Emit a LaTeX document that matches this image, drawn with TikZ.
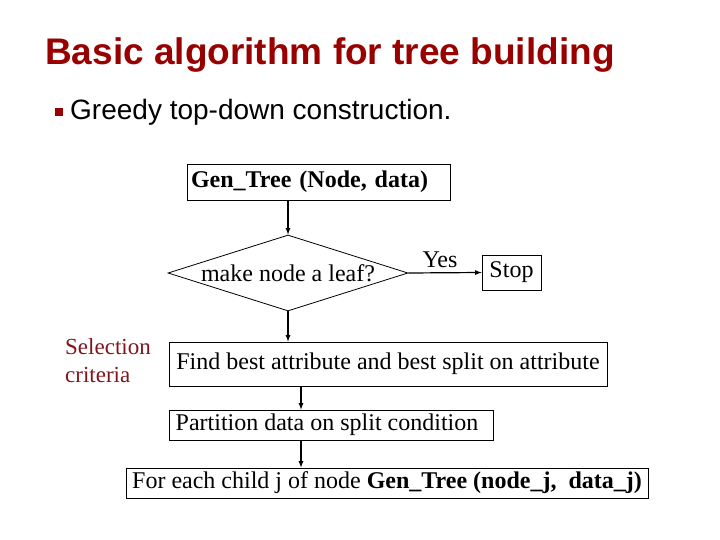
\documentclass[tikz,border=0pt]{standalone}
\usepackage{fontspec}
\setmainfont{Liberation Serif}
\newfontfamily\titlefont{Liberation Sans}
\usetikzlibrary{shapes.geometric}
\definecolor{titlered}{RGB}{153,0,0}
\definecolor{critred}{RGB}{130,20,30}
\tikzset{
  stepbox/.style={draw,line width=0.8pt,inner sep=0pt,font=\fontsize{24}{28}\selectfont},
  flow/.style={-latex,line width=1.2pt}
}
\begin{document}
\begin{tikzpicture}[x=1pt,y=-1pt]
\useasboundingbox (0,0) rectangle (720,540);
\node[anchor=west,inner sep=0pt,text=titlered,font=\titlefont\bfseries\fontsize{37}{42}\selectfont] (title) at (45,55) {Basic algorithm for tree building};
\fill[titlered] (55,108) rectangle (63,116);
\node[anchor=west,inner sep=0pt,font=\titlefont\fontsize{28}{32}\selectfont] (bullet) at (70,112) {Greedy top-down construction.};
\node[stepbox,minimum width=263,minimum height=36,text width=255,align=left] (gen) at (318.5,182) {\textbf{Gen\_Tree (Node, data)}};
\node[stepbox,diamond,aspect=3.16,minimum width=240,minimum height=76] (leaf) at (288,273) {\hspace*{0pt}make node a leaf?};
\node[stepbox,minimum width=59,minimum height=35] (stop) at (511.5,272.5) {Stop};
\node[font=\fontsize{24}{28}\selectfont] (yes) at (440,260) {Yes};
\node[stepbox,minimum width=438,minimum height=44] (find) at (388,364) {Find best attribute and best split on attribute};
\node[stepbox,minimum width=324,minimum height=30] (part) at (331,425) {\hspace*{-8pt}Partition data on split condition};
\node[stepbox,minimum width=522,minimum height=30] (each) at (387,483) {For each child j of node \textbf{Gen\_Tree (node\_j,~ data\_j)}};
\node[anchor=west,align=left,inner sep=0pt,text=critred,font=\fontsize{23}{28}\selectfont] (crit) at (65,361) {Selection\\criteria};
\coordinate (genout) at (288,200);
\coordinate (findout) at (301,386);
\coordinate (partout) at (301,440);
\draw[flow] (genout) -- (leaf.north);
\draw[flow] (leaf.east) -- (stop.west);
\draw[flow] (leaf.south) -- (leaf.south |- find.north);
\draw[flow] (findout) -- (findout |- part.north);
\draw[flow] (partout) -- (partout |- each.north);
\end{tikzpicture}
\end{document}
